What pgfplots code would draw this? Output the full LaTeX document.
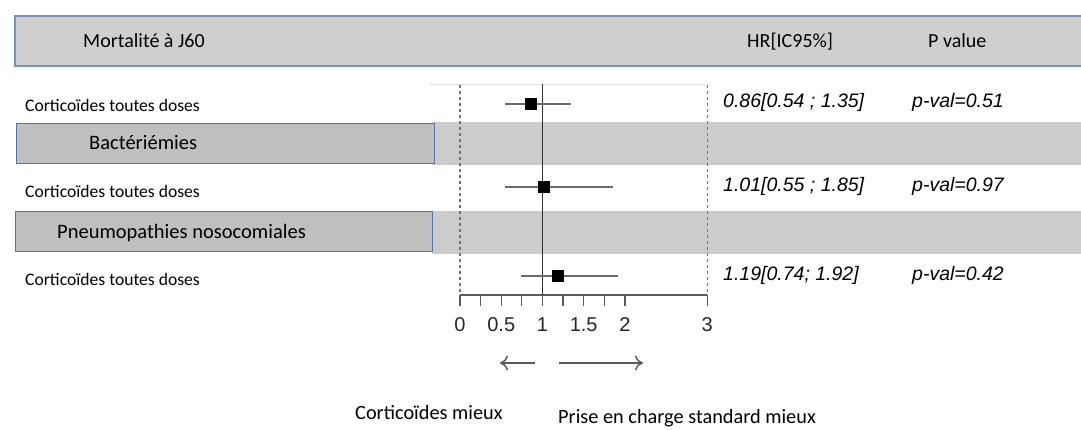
\documentclass[border=0pt]{standalone}
\usepackage{fontspec}
\setmainfont{Carlito}
\newfontfamily\arial{Liberation Sans}
\usepackage{pgfplots}
\usepackage{pgfplotstable}
\pgfplotsset{compat=1.18}
\usetikzlibrary{arrows.meta}

\definecolor{bandgray}{HTML}{CCCCCC}
\definecolor{boxgray}{HTML}{BFBFBF}
\definecolor{headgray}{HTML}{D0CECF}
\definecolor{boxblue}{HTML}{5274B0}
\definecolor{headblue}{HTML}{7A90BD}
\definecolor{cigray}{HTML}{6A6A6A}
\definecolor{axgray}{HTML}{5A5A5A}

% row position (px from top), hazard ratio, CI bounds
\pgfplotstableread{
row hr lo hi
104 0.86 0.54 1.35
187 1.01 0.55 1.85
276 1.19 0.74 1.92
}\hrdata

\newcommand{\cfs}[1]{\fontsize{#1}{#1}\selectfont}
\newcommand{\afs}[1]{\arial\fontsize{#1}{#1}\selectfont}

\begin{document}
\begin{tikzpicture}[x=1pt,y=-1pt]
\useasboundingbox (0,0) rectangle (1081,430);

% header
\draw[headblue, line width=1.5pt, fill=headgray] (15,16) rectangle (1090,66);
\node[anchor=base west, inner sep=0] at (83,47.5) {\cfs{20}Mortalité à J60};
\node[anchor=base west, inner sep=0] at (747,47.5) {\cfs{20}HR[IC95\%]};
\node[anchor=base west, inner sep=0] at (928,47.5) {\cfs{20}P value};

% group bands
\fill[bandgray] (432,122.5) rectangle (1081,165);
\fill[bandgray] (432,211) rectangle (1081,254);
\draw[boxblue, line width=1pt, fill=boxgray] (16,123.5) rectangle (434,163.5);
\draw[boxblue, line width=1pt, fill=boxgray] (15,211.5) rectangle (432,251.5);
\node[anchor=base west, inner sep=0] at (89,149.5) {\cfs{20.5}Bactériémies};
\node[anchor=base west, inner sep=0] at (57,239) {\cfs{20.5}Pneumopathies nosocomiales};
\draw[black!12, line width=1pt] (430,85) -- (707,85);

\begin{axis}[
  at={(460pt,-295pt)}, anchor=south west,
  scale only axis, width=247.3pt, height=210pt,
  xmin=0, xmax=3, ymin=85, ymax=295, y dir=reverse,
  clip=false,
  axis x line*=bottom, axis y line=none,
  x axis line style={axgray, line width=1.3pt},
  xtick={0,0.25,0.5,0.75,1,1.25,1.5,1.75,2,3},
  xticklabels={0,,0.5,,1,,1.5,,2,3},
  ytick=\empty,
  tick align=outside, major tick length=11pt,
  x tick style={axgray, line width=1.3pt},
  xticklabel style={font=\afs{20}, text=black!85, yshift=-8pt},
]
\draw[black!55, dashed, line width=1.2pt] (axis cs:0,85) -- (axis cs:0,295);
\draw[black!55, dashed, line width=1.2pt] (axis cs:3,85) -- (axis cs:3,295);
\draw[black!80, line width=1pt] (axis cs:1,84) -- (axis cs:1,295);

\addplot[only marks, mark=none,
  error bars/.cd, x dir=both, x explicit, error mark=none,
  error bar style={draw=cigray, line width=1.8pt}]
  table[x=hr, y=row, x error minus expr=\thisrow{hr}-\thisrow{lo},
        x error plus expr=\thisrow{hi}-\thisrow{hr}] {\hrdata};
\addplot[only marks, mark=square*, mark size=5.5pt, black]
  table[x=hr, y=row] {\hrdata};
\end{axis}

% row labels
\foreach \yy in {111.7,198,285.5}
  \node[anchor=base west, inner sep=0] at (25,\yy) {\cfs{17.6}Corticoïdes toutes doses};

% estimates and p-values
\node[anchor=base west, inner sep=0] at (723,107.5) {\afs{19.5}\itshape 0.86[0.54 ; 1.35]};
\node[anchor=base west, inner sep=0] at (912,107.5) {\afs{19.5}\itshape p-val=0.51};
\node[anchor=base west, inner sep=0] at (723,191.5) {\afs{19.5}\itshape 1.01[0.55 ; 1.85]};
\node[anchor=base west, inner sep=0] at (912,191.5) {\afs{19.5}\itshape p-val=0.97};
\node[anchor=base west, inner sep=0] at (723,280) {\afs{19.5}\itshape 1.19[0.74; 1.92]};
\node[anchor=base west, inner sep=0] at (912,280) {\afs{19.5}\itshape p-val=0.42};

% direction arrows
\draw[axgray, line width=1.5pt, -{To[length=8pt,width=15pt]}] (535,363) -- (500,363);
\draw[axgray, line width=1.5pt, -{To[length=8pt,width=15pt]}] (559,363) -- (643,363);
\node[anchor=base west, inner sep=0] at (355,419.5) {\cfs{20.3}Corticoïdes mieux};
\node[anchor=base west, inner sep=0] at (558,423) {\cfs{20.3}Prise en charge standard mieux};
\end{tikzpicture}
\end{document}
